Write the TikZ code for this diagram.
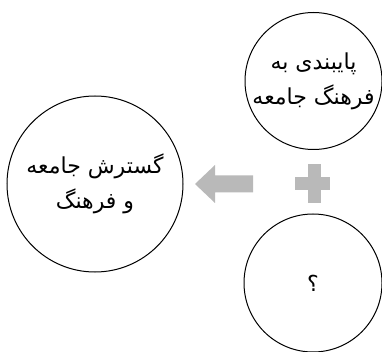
\documentclass[tikz,border=0pt]{standalone}
\usepackage{fontspec}
\newfontfamily\arabicfont[Script=Arabic]{DejaVu Sans}
\TeXXeTstate=1
\usetikzlibrary{positioning}
\definecolor{gP}{RGB}{185,185,185}

\begin{document}
\begin{tikzpicture}[x=1pt,y=-1pt,
  bubble/.style={circle,draw,line width=1pt,inner sep=0,align=center,
                 font=\arabicfont\fontsize{22}{35}\selectfont},
  blockfill/.style={fill=gP,draw=none}]

  \useasboundingbox (0,0) rectangle (382,352);

  % ---- circles ----
  \node[bubble,minimum size=176] (spread) at (95,184)
    {\beginR گسترش جامعه\endR\\\beginR و فرهنگ\endR};
  \node[bubble,minimum size=137] (keep) at (313.5,81)
    {\beginR پایبندی به\endR\\\beginR فرهنگ جامعه\endR};
  \node[bubble,minimum size=138] (unknown) at (313,283) {\beginR ؟\endR};

  % ---- plus ----
  \fill[blockfill] (295,176.7) rectangle (330,190.3);
  \fill[blockfill] (307.7,164) rectangle (321,203);

  % ---- arrow ----
  \fill[blockfill] (195,184)--(215,165)--(215,175.5)--(253,175.5)
    --(253,192.3)--(215,192.3)--(215,203)--cycle;

\end{tikzpicture}
\end{document}
